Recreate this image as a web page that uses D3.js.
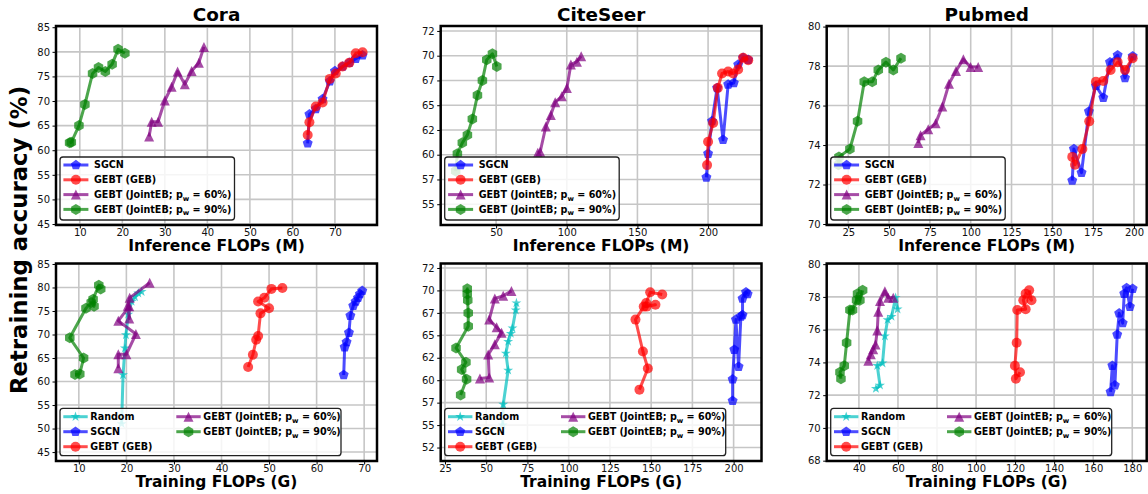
<!DOCTYPE html>
<html><head><meta charset="utf-8">
<script src="https://cdn.jsdelivr.net/npm/d3@7"></script>
<style>
body{margin:0;background:#fff;}
svg{display:block;font-family:"DejaVu Sans",sans-serif;}
</style></head><body>
<svg id="chart" width="1148" height="494"></svg>
<script>
// ---------------- DATA ----------------
// Cora
const coraRandomAcc   = [51.0, 61.4, 67.1, 69.9, 74.3, 77.0, 78.0, 78.8, 79.1];
const coraRandomTrain = [19.0, 19.3, 19.7, 19.9, 20.4, 21.1, 21.8, 22.5, 23.2];
const coraSgcnAcc   = [61.4, 67.3, 68.4, 70.4, 74.0, 76.1, 77.0, 77.8, 78.6, 79.3];
const coraSgcnInf   = [63.6, 64.0, 65.5, 67.1, 68.8, 70.0, 71.8, 73.4, 74.9, 76.5];
const coraSgcnTrain = [65.7, 65.9, 66.3, 66.8, 67.1, 67.7, 68.2, 68.7, 69.1, 69.6];
const coraGebAcc   = [63.1, 65.7, 68.9, 69.7, 74.5, 75.6, 77.0, 77.8, 79.7, 79.9];
const coraGebInf   = [63.6, 64.0, 65.5, 67.1, 68.8, 70.2, 71.8, 73.4, 74.9, 76.5];
const coraGebTrain = [45.6, 46.6, 47.3, 47.7, 48.2, 50.0, 47.7, 49.0, 50.5, 52.8];
const coraP60Acc   = [62.8, 65.8, 65.8, 70.1, 72.9, 76.0, 73.4, 76.1, 77.8, 81.0];
const coraP60Inf   = [26.3, 26.9, 28.4, 30.0, 31.6, 33.0, 34.7, 36.3, 38.0, 39.2];
const coraP60Train = [18.3, 18.3, 20.0, 22.0, 18.3, 20.6, 20.6, 20.3, 20.7, 24.9];
const coraP90Acc   = [61.5, 61.6, 65.0, 69.3, 75.6, 76.8, 76.0, 77.5, 80.5, 79.7];
const coraP90Inf   = [7.6, 8.0, 9.8, 11.2, 13.0, 14.4, 16.0, 17.6, 19.0, 20.6];
const coraP90Train = [9.2, 10.2, 11.0, 8.1, 11.5, 12.6, 13.2, 13.0, 14.2, 14.6];
// CiteSeer
const citeRandomAcc   = [55.0, 57.3, 61.1, 63.0, 64.3, 65.2, 65.8, 67.8, 68.6];
const citeRandomTrain = [60.0, 60.3, 63.3, 61.9, 63.3, 64.9, 65.9, 67.9, 68.3];
const citeSgcnAcc   = [57.7, 60.1, 63.4, 66.75, 61.5, 67.1, 67.25, 69.1, 69.8, 69.6];
const citeSgcnInf   = [198.8, 200.0, 202.8, 206.4, 210.6, 214.2, 218.2, 221.3, 224.8, 228.4];
const citeSgcnTrain = [199.4, 199.4, 200.4, 201.4, 203.0, 204.4, 205.4, 205.4, 207.5, 208.5];
const citeGebAcc   = [58.95, 61.3, 63.2, 66.75, 68.2, 68.4, 68.2, 68.6, 69.8, 69.55];
const citeGebInf   = [199.3, 200.0, 203.6, 206.9, 209.9, 214.2, 217.7, 221.3, 224.8, 228.4];
const citeGebTrain = [142.9, 148.0, 145.0, 140.5, 145.5, 152.6, 147.2, 147.0, 149.4, 156.7];
const citeP60Acc   = [60.2, 60.3, 62.85, 64.0, 65.3, 65.9, 66.75, 69.1, 69.4, 69.95];
const citeP60Inf   = [79.5, 81.2, 85.2, 88.7, 91.8, 96.5, 100.1, 102.9, 107.2, 110.2];
const citeP60Train = [46.2, 51.8, 51.2, 55.2, 59.3, 56.3, 51.8, 55.2, 60.3, 65.3];
const citeP90Acc   = [58.35, 60.1, 61.2, 62.0, 63.6, 66.0, 67.5, 69.6, 70.2, 68.9];
const citeP90Inf   = [21.4, 22.6, 26.1, 29.7, 33.2, 36.8, 40.3, 43.4, 47.4, 50.5];
const citeP90Train = [34.5, 38.1, 35.1, 37.7, 31.7, 39.1, 39.1, 38.5, 38.5, 38.8];
// Pubmed
const pubRandomAcc   = [72.4, 72.6, 73.8, 73.95, 75.6, 76.6, 76.8, 77.95, 77.25];
const pubRandomTrain = [48.7, 50.8, 49.4, 52.1, 53.3, 54.7, 56.7, 58.8, 59.8];
const pubSgcnAcc   = [72.2, 73.8, 72.6, 75.7, 77.0, 76.4, 78.2, 78.55, 77.4, 78.5];
const pubSgcnInf   = [162.2, 163.2, 167.9, 172.4, 176.7, 181.2, 185.3, 190.0, 194.5, 199.2];
const pubSgcnTrain = [168.9, 169.8, 171.1, 172.3, 173.3, 175.1, 175.9, 177.1, 178.8, 180.2];
const pubGebAcc   = [73.4, 73.0, 73.8, 75.2, 77.2, 77.25, 77.8, 78.2, 77.8, 78.4];
const pubGebInf   = [162.2, 163.9, 168.4, 172.6, 176.7, 181.2, 185.7, 190.0, 194.5, 199.2];
const pubGebTrain = [122.5, 120.4, 119.9, 120.8, 121.1, 125.4, 124.2, 125.4, 128.4, 127.2];
const pubP60Acc   = [74.1, 74.5, 74.8, 75.1, 75.95, 77.1, 77.75, 78.35, 77.95, 77.95];
const pubP60Inf   = [67.9, 69.3, 74.0, 78.5, 82.6, 86.7, 91.0, 95.5, 99.9, 104.6];
const pubP60Train = [44.8, 46.1, 47.3, 48.5, 49.4, 49.9, 50.8, 53.3, 55.0, 57.6];
const pubP90Acc   = [73.0, 73.4, 73.8, 75.2, 77.2, 77.2, 77.8, 78.2, 77.8, 78.4];
const pubP90Inf   = [19.0, 19.3, 26.0, 30.7, 34.8, 39.7, 43.4, 48.1, 52.6, 57.3];
const pubP90Train = [30.8, 30.3, 32.5, 33.7, 35.4, 36.75, 38.8, 39.3, 40.5, 41.9];

// Ticks and tick labels
const coraYTicks = [45, 50, 55, 60, 65, 70, 75, 80, 85];
const coraYLabels = ["45", "50", "55", "60", "65", "70", "75", "80", "85"];
const coraInfTicks = [10, 20, 30, 40, 50, 60, 70];
const coraInfLabels = ["10", "20", "30", "40", "50", "60", "70"];
const coraTrainTicks = [10, 20, 30, 40, 50, 60, 70];
const coraTrainLabels = ["10", "20", "30", "40", "50", "60", "70"];
const citeYTicksTop = [55, 57.5, 60, 62.5, 65, 67.5, 70, 72.5];
const citeYLabelsTop = ["55", "57", "60", "62", "65", "67", "70", "72"];
const citeYTicksBottom = [52.5, 55, 57.5, 60, 62.5, 65, 67.5, 70, 72.5];
const citeYLabelsBottom = ["52", "55", "57", "60", "62", "65", "67", "70", "72"];
const citeInfTicks = [50, 100, 150, 200];
const citeInfLabels = ["50", "100", "150", "200"];
const citeTrainTicks = [25, 50, 75, 100, 125, 150, 175, 200];
const citeTrainLabels = ["25", "50", "75", "100", "125", "150", "175", "200"];
const pubYTicksTop = [70, 72, 74, 76, 78, 80];
const pubYLabelsTop = ["70", "72", "74", "76", "78", "80"];
const pubYTicksBottom = [68, 70, 72, 74, 76, 78, 80];
const pubYLabelsBottom = ["68", "70", "72", "74", "76", "78", "80"];
const pubInfTicks = [25, 50, 75, 100, 125, 150, 175, 200];
const pubInfLabels = ["25", "50", "75", "100", "125", "150", "175", "200"];
const pubTrainTicks = [40, 60, 80, 100, 120, 140, 160, 180];
const pubTrainLabels = ["40", "60", "80", "100", "120", "140", "160", "180"];

// ---------------- STYLES ----------------
const seriesStyle = {
  random: {label: ["Random"], color: "#00bfbf", marker: "star"},
  sgcn:   {label: ["SGCN"], color: "#0000ff", marker: "pentagon"},
  geb:    {label: ["GEBT (GEB)"], color: "#ff0000", marker: "circle"},
  p60:    {label: ["GEBT (JointEB; p", "w", " = 60%)"], color: "#800080", marker: "triangle"},
  p90:    {label: ["GEBT (JointEB; p", "w", " = 90%)"], color: "#008000", marker: "hexagon"}
};

const rows = {top: {t: 26, b: 225, xl: 250.5}, bottom: {t: 263.5, b: 461, xl: 487}};
const cols = [{l: 56, r: 377}, {l: 440.7, r: 761.5}, {l: 826.7, r: 1146.7}];

const pair = (xs, ys) => xs.map((v, i) => [v, ys[i]]);

const panels = [
  {col: 0, row: "top", title: "Cora", xLabel: "Inference FLOPs (M)", xDom: [4.4, 79.9], yDom: [44.8, 85.25],
   xTicks: coraInfTicks, xLabels: coraInfLabels, yTicks: coraYTicks, yLabels: coraYLabels,
   series: [["sgcn", pair(coraSgcnInf, coraSgcnAcc)], ["geb", pair(coraGebInf, coraGebAcc)],
            ["p60", pair(coraP60Inf, coraP60Acc)], ["p90", pair(coraP90Inf, coraP90Acc)]]},
  {col: 1, row: "top", title: "CiteSeer", xLabel: "Inference FLOPs (M)", xDom: [10.8, 237.8], yDom: [52.9, 73.0],
   xTicks: citeInfTicks, xLabels: citeInfLabels, yTicks: citeYTicksTop, yLabels: citeYLabelsTop,
   series: [["sgcn", pair(citeSgcnInf, citeSgcnAcc)], ["geb", pair(citeGebInf, citeGebAcc)],
            ["p60", pair(citeP60Inf, citeP60Acc)], ["p90", pair(citeP90Inf, citeP90Acc)]]},
  {col: 2, row: "top", title: "Pubmed", xLabel: "Inference FLOPs (M)", xDom: [11.8, 207.8], yDom: [69.95, 80.03],
   xTicks: pubInfTicks, xLabels: pubInfLabels, yTicks: pubYTicksTop, yLabels: pubYLabelsTop,
   series: [["sgcn", pair(pubSgcnInf, pubSgcnAcc)], ["geb", pair(pubGebInf, pubGebAcc)],
            ["p60", pair(pubP60Inf, pubP60Acc)], ["p90", pair(pubP90Inf, pubP90Acc)]]},
  {col: 0, row: "bottom", xLabel: "Training FLOPs (G)", xDom: [5.2, 72.7], yDom: [43.1, 85.1],
   xTicks: coraTrainTicks, xLabels: coraTrainLabels, yTicks: coraYTicks, yLabels: coraYLabels,
   series: [["random", pair(coraRandomTrain, coraRandomAcc)], ["sgcn", pair(coraSgcnTrain, coraSgcnAcc)],
            ["geb", pair(coraGebTrain, coraGebAcc)], ["p60", pair(coraP60Train, coraP60Acc)],
            ["p90", pair(coraP90Train, coraP90Acc)]]},
  {col: 1, row: "bottom", xLabel: "Training FLOPs (G)", xDom: [22.4, 216.9], yDom: [51.0, 73.0],
   xTicks: citeTrainTicks, xLabels: citeTrainLabels, yTicks: citeYTicksBottom, yLabels: citeYLabelsBottom,
   series: [["random", pair(citeRandomTrain, citeRandomAcc)], ["sgcn", pair(citeSgcnTrain, citeSgcnAcc)],
            ["geb", pair(citeGebTrain, citeGebAcc)], ["p60", pair(citeP60Train, citeP60Acc)],
            ["p90", pair(citeP90Train, citeP90Acc)]]},
  {col: 2, row: "bottom", xLabel: "Training FLOPs (G)", xDom: [23.5, 187.4], yDom: [67.98, 80.04],
   xTicks: pubTrainTicks, xLabels: pubTrainLabels, yTicks: pubYTicksBottom, yLabels: pubYLabelsBottom,
   series: [["random", pair(pubRandomTrain, pubRandomAcc)], ["sgcn", pair(pubSgcnTrain, pubSgcnAcc)],
            ["geb", pair(pubGebTrain, pubGebAcc)], ["p60", pair(pubP60Train, pubP60Acc)],
            ["p90", pair(pubP90Train, pubP90Acc)]]}
];

// ---------------- MARKERS ----------------
const R = 5;
function regPoly(n, r) {
  const pts = d3.range(n).map(k => {
    const a = -Math.PI / 2 + 2 * Math.PI * k / n;
    return [r * Math.cos(a), r * Math.sin(a)];
  });
  return "M" + pts.map(p => p[0].toFixed(2) + "," + p[1].toFixed(2)).join("L") + "Z";
}
function starPath(r) {
  const pts = d3.range(10).map(k => {
    const a = -Math.PI / 2 + Math.PI * k / 5;
    const rr = k % 2 === 0 ? r : r * 0.382;
    return [rr * Math.cos(a), rr * Math.sin(a)];
  });
  return "M" + pts.map(p => p[0].toFixed(2) + "," + p[1].toFixed(2)).join("L") + "Z";
}
const markerPaths = {
  circle: d3.symbol().type(d3.symbolCircle).size(Math.PI * R * R)(),
  pentagon: regPoly(5, R * 1.05),
  hexagon: regPoly(6, R * 1.1),
  triangle: `M0,${-R}L${-R},${R}L${R},${R}Z`,
  star: starPath(R * 1.05)
};

const svg = d3.select("#chart");
const ALPHA = 0.7;

function drawSeries(g, key, pts, x, y) {
  const st = seriesStyle[key];
  const line = d3.line().x(d => x(d[0])).y(d => y(d[1]));
  const sg = g.append("g");
  sg.append("path").attr("d", line(pts)).attr("fill", "none")
    .attr("stroke", st.color).attr("stroke-width", 3).attr("stroke-opacity", ALPHA)
    .attr("stroke-linejoin", "round");
  sg.selectAll("path.m").data(pts).join("path").attr("class", "m")
    .attr("d", markerPaths[st.marker])
    .attr("transform", d => `translate(${x(d[0])},${y(d[1])})`)
    .attr("fill", st.color).attr("fill-opacity", ALPHA);
}

function legendLabel(textSel, parts) {
  textSel.append("tspan").text(parts[0]);
  if (parts.length > 1) {
    textSel.append("tspan").attr("font-size", "7px").attr("dy", 2.5).text(parts[1]);
    textSel.append("tspan").attr("dy", -2.5).text(parts[2]);
  }
}

function drawLegend(g, p, box) {
  const keys = p.series.map(s => s[0]);
  const top = p.row === "top";
  const lx = box.l + 4;
  const w = top ? 174.5 : 281;
  const h = top ? 63 : 47.4;
  const ly = box.b - (top ? 68 : 52.7);
  const lg = g.append("g");
  lg.append("rect").attr("x", lx).attr("y", ly).attr("width", w).attr("height", h)
    .attr("rx", 3).attr("fill", "#fff").attr("fill-opacity", 0.82)
    .attr("stroke", "#222").attr("stroke-width", 1.3);
  keys.forEach((k, i) => {
    let cx, cy, textOff, hs, he;
    if (top) {
      cx = lx; cy = ly + 8 + i * 14.8; hs = 3.4; he = 28.4; textOff = 34;
    } else {
      const c = i < 3 ? 0 : 1;
      const r = i < 3 ? i : i - 3;
      cx = lx + c * 113; cy = ly + 8.4 + r * 15; hs = 3.3; he = 27.7; textOff = 30.3;
    }
    const st = seriesStyle[k];
    lg.append("line").attr("x1", cx + hs).attr("x2", cx + he).attr("y1", cy).attr("y2", cy)
      .attr("stroke", st.color).attr("stroke-width", 3).attr("stroke-opacity", ALPHA);
    lg.append("path").attr("d", markerPaths[st.marker])
      .attr("transform", `translate(${cx + (hs + he) / 2},${cy})`)
      .attr("fill", st.color).attr("fill-opacity", ALPHA);
    const t = lg.append("text").attr("x", cx + textOff).attr("y", cy).attr("dy", "0.36em")
      .attr("font-size", "9.6px").attr("font-weight", "bold").attr("fill", "#000");
    legendLabel(t, st.label);
  });
}

panels.forEach(p => {
  const rw = rows[p.row], cl = cols[p.col];
  const box = {l: cl.l, r: cl.r, t: rw.t, b: rw.b};
  const x = d3.scaleLinear().domain(p.xDom).range([box.l, box.r]);
  const y = d3.scaleLinear().domain(p.yDom).range([box.b, box.t]);
  const g = svg.append("g");

  // grid
  g.selectAll("line.gx").data(p.xTicks).join("line").attr("class", "gx")
    .attr("x1", d => x(d)).attr("x2", d => x(d)).attr("y1", box.t).attr("y2", box.b)
    .attr("stroke", "#c6c6c6").attr("stroke-width", 1.6);
  g.selectAll("line.gy").data(p.yTicks).join("line").attr("class", "gy")
    .attr("y1", d => y(d)).attr("y2", d => y(d)).attr("x1", box.l).attr("x2", box.r)
    .attr("stroke", "#c6c6c6").attr("stroke-width", 1.6);

  // axes
  const ax = g.append("g").attr("transform", `translate(0,${box.b})`)
    .call(d3.axisBottom(x).tickValues(p.xTicks).tickFormat((d, i) => p.xLabels[i])
      .tickSize(3.5).tickSizeOuter(0).tickPadding(0));
  const ay = g.append("g").attr("transform", `translate(${box.l},0)`)
    .call(d3.axisLeft(y).tickValues(p.yTicks).tickFormat((d, i) => p.yLabels[i])
      .tickSize(3.5).tickSizeOuter(0).tickPadding(2.5));
  [ax, ay].forEach(a => {
    a.select(".domain").remove();
    a.selectAll("text").attr("font-size", "10px").attr("font-family", "DejaVu Sans").attr("fill", "#111");
    a.selectAll("line").attr("stroke", "#000").attr("stroke-width", 1);
  });

  // series
  p.series.forEach(s => drawSeries(g, s[0], s[1], x, y));

  // frame
  g.append("rect").attr("x", box.l).attr("y", box.t).attr("width", box.r - box.l).attr("height", box.b - box.t)
    .attr("fill", "none").attr("stroke", "#000").attr("stroke-width", 2.5);

  drawLegend(g, p, box);

  // labels
  const cxm = (box.l + box.r) / 2;
  if (p.title) {
    g.append("text").attr("x", cxm).attr("y", 20.7).attr("text-anchor", "middle")
      .attr("font-size", "18.4px").attr("font-weight", "bold").text(p.title);
  }
  g.append("text").attr("x", cxm).attr("y", rw.xl).attr("text-anchor", "middle")
    .attr("font-size", "15.5px").attr("font-weight", "bold").text(p.xLabel);
});

svg.append("text").attr("transform", "translate(27,240) rotate(-90)").attr("text-anchor", "middle")
  .attr("font-size", "22.8px").attr("font-weight", "bold").text("Retraining accuracy (%)");
</script>
</body></html>
